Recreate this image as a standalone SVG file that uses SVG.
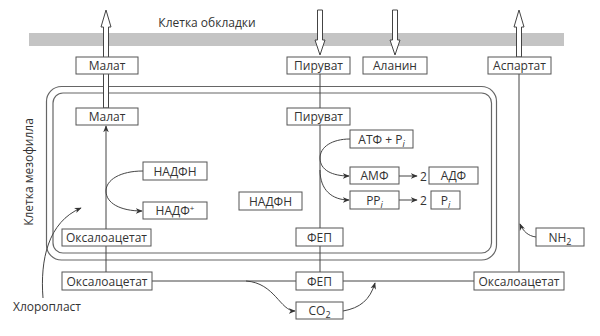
<svg xmlns="http://www.w3.org/2000/svg" width="600" height="336" viewBox="0 0 600 336">
<defs>
<marker id="ah" viewBox="0 0 10 10" refX="9" refY="5" markerWidth="7" markerHeight="7" markerUnits="userSpaceOnUse" orient="auto">
<path d="M0,1 L10,5 L0,9 L3,5 Z" fill="#333"/>
</marker>
<style>
text{font-family:"Open Sans","Noto Sans","DejaVu Sans",sans-serif;font-size:12px;fill:#333}
.box{fill:#fff;stroke:#555;stroke-width:1}
.ln{fill:none;stroke:#444;stroke-width:1}
.big{fill:#fff;stroke:#444;stroke-width:1}
.mem{fill:none;stroke:#666;stroke-width:1.2}
.c{text-anchor:middle}
</style>
</defs>
<rect width="600" height="336" fill="#fff"/>
<rect x="29" y="33" width="535" height="13" fill="#c4c4c4"/>
<text x="207" y="27" class="c">Клетка обкладки</text>
<rect class="mem" x="46.5" y="86.5" width="450" height="173.5" rx="15"/>
<rect class="mem" x="53" y="93" width="438.5" height="160" rx="10"/>
<text transform="translate(33,172) rotate(-90)" class="c">Клетка мезофилла</text>
<g id="connectors">
<polygon class="big" points="106,10 111,27 108.5,27 108.5,108 103.5,108 103.5,27 101,27"/>
<polygon class="big" points="317.5,10 322.5,10 322.5,40 325,40 320,55 315,40 317.5,40"/>
<polygon class="big" points="392.5,10 397.5,10 397.5,40 400,40 395,55 390,40 392.5,40"/>
<polygon class="big" points="519,10 524,27 521.5,27 521.5,57 516.5,57 516.5,27 514,27"/>
<line class="ln" x1="519" y1="74" x2="519" y2="272"/>
<line class="ln" x1="320" y1="74" x2="320" y2="272"/>
<line class="ln" x1="106" y1="246" x2="106" y2="272"/>
<line class="ln" x1="106" y1="229" x2="106" y2="126" marker-end="url(#ah)"/>
<path class="ln" d="M143,171 C120,171 106,180 106,191 C106,203 120,211 142,211" marker-end="url(#ah)"/>
<path class="ln" d="M350,139 C332,139 320,147 320,158 C320,170 332,176 349,176" marker-end="url(#ah)"/>
<path class="ln" d="M320,170 C320,190 332,200 349,200" marker-end="url(#ah)"/>
<line class="ln" x1="399" y1="176" x2="417" y2="176" marker-end="url(#ah)"/>
<line class="ln" x1="399" y1="200" x2="417" y2="200" marker-end="url(#ah)"/>
<line class="ln" x1="152" y1="281" x2="474" y2="281"/>
<path class="ln" d="M246,281 C275,283 280,311 295,311" marker-end="url(#ah)"/>
<path class="ln" d="M343,311 C360,308 370,300 375,283" marker-end="url(#ah)"/>
<path class="ln" d="M536,237 C528,236 523,231 520,224" marker-end="url(#ah)"/>
<path class="ln" d="M43,298 C40,260 48,222 81,208" marker-end="url(#ah)"/>
</g>
<g id="malat-out"><rect class="box" x="76" y="57" width="62" height="17"/><text x="107" y="70" class="c">Малат</text></g>
<g id="pyruvate-out"><rect class="box" x="287" y="57" width="63" height="17"/><text x="318.5" y="70" class="c">Пируват</text></g>
<g id="alanine"><rect class="box" x="363" y="57" width="64" height="17"/><text x="395" y="70" class="c">Аланин</text></g>
<g id="aspartate"><rect class="box" x="488" y="57" width="63" height="17"/><text x="519.5" y="70" class="c">Аспартат</text></g>
<g id="malat-in"><rect class="box" x="76" y="108" width="62" height="17"/><text x="107" y="121" class="c">Малат</text></g>
<g id="pyruvate-in"><rect class="box" x="287" y="108" width="63" height="17"/><text x="318.5" y="121" class="c">Пируват</text></g>
<g id="nadph1"><rect class="box" x="143" y="162" width="64" height="18"/><text x="175" y="175.5" class="c">НАДФН</text></g>
<g id="nadp"><rect class="box" x="143" y="202" width="64" height="17"/><text x="175" y="215" class="c">НАДФ<tspan font-size="8" dy="-4">+</tspan></text></g>
<g id="nadph2"><rect class="box" x="239" y="192" width="63" height="18"/><text x="270.5" y="205.5" class="c">НАДФН</text></g>
<g id="atp"><rect class="box" x="350" y="130" width="63" height="18"/><text x="381.5" y="143.5" class="c">АТФ + P<tspan font-style="italic" font-size="9" dy="3">i</tspan></text></g>
<g id="amp"><rect class="box" x="350" y="167" width="49" height="17"/><text x="374.5" y="180" class="c">АМФ</text></g>
<text x="420" y="180.5">2</text>
<g id="adp"><rect class="box" x="429" y="167" width="49" height="17"/><text x="453.5" y="180" class="c">АДФ</text></g>
<g id="ppi"><rect class="box" x="350" y="191" width="49" height="18"/><text x="374.5" y="204.5" class="c">PP<tspan font-style="italic" font-size="9" dy="3">i</tspan></text></g>
<text x="420" y="204.5">2</text>
<g id="pi"><rect class="box" x="431" y="191" width="29" height="18"/><text x="445.5" y="204.5" class="c">P<tspan font-style="italic" font-size="9" dy="3">i</tspan></text></g>
<g id="oaa-in"><rect class="box" x="62" y="229" width="89" height="17"/><text x="106.5" y="242" class="c">Оксалоацетат</text></g>
<g id="pep-in"><rect class="box" x="296" y="228" width="47" height="18"/><text x="319.5" y="241.5" class="c">ФЕП</text></g>
<g id="nh2"><rect class="box" x="536" y="228" width="48" height="18"/><text x="560" y="241.5" class="c">NH<tspan font-size="9" dy="3">2</tspan></text></g>
<g id="oaa-out"><rect class="box" x="62" y="272" width="90" height="18"/><text x="107" y="285.5" class="c">Оксалоацетат</text></g>
<g id="pep-out"><rect class="box" x="296" y="272" width="47" height="18"/><text x="319.5" y="285.5" class="c">ФЕП</text></g>
<g id="oaa-right"><rect class="box" x="474" y="272" width="90" height="18"/><text x="519" y="285.5" class="c">Оксалоацетат</text></g>
<g id="co2"><rect class="box" x="296" y="302" width="47" height="17"/><text x="319.5" y="315" class="c">CO<tspan font-size="9" dy="3">2</tspan></text></g>
<text x="13" y="311">Хлоропласт</text>
</svg>
